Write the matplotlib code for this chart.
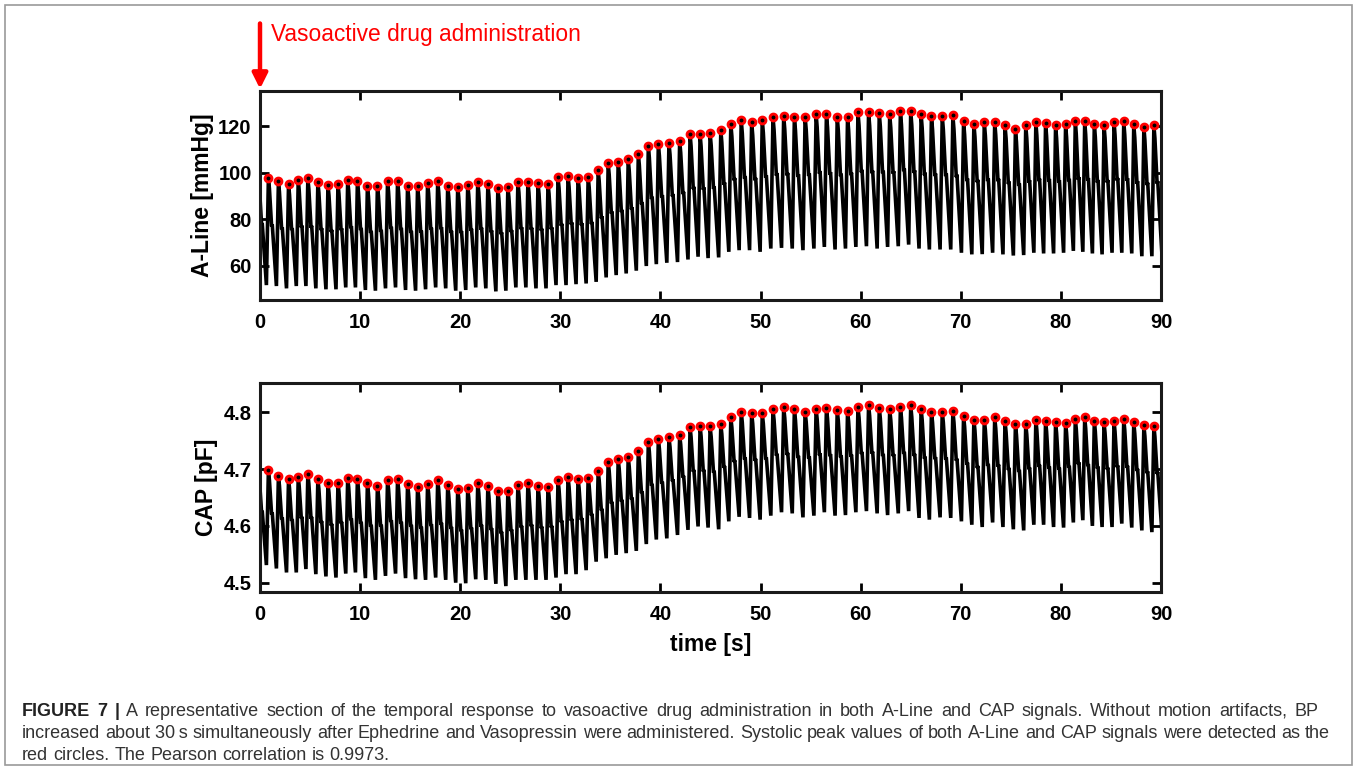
import numpy as np
import matplotlib
matplotlib.use('Agg')
import matplotlib.pyplot as plt
from matplotlib.patches import Rectangle

plt.rcParams['font.family'] = ['Liberation Sans', 'DejaVu Sans']

# systolic peak times [s] (detected peaks)
peak_t = [0.84, 1.84, 2.85, 3.82, 4.78, 5.78, 6.79, 7.79, 8.76, 9.73,
          10.73, 11.73, 12.74, 13.74, 14.74, 15.74, 16.74, 17.75, 18.75, 19.75,
          20.75, 21.75, 22.76, 23.76, 24.76, 25.76, 26.76, 27.77, 28.77, 29.77,
          30.77, 31.77, 32.78, 33.78, 34.78, 35.78, 36.78, 37.79, 38.79, 39.79,
          40.85, 41.92, 42.96, 43.96, 44.96, 46.03, 47.03, 48.07, 49.11, 50.17,
          51.24, 52.31, 53.38, 54.45, 55.55, 56.58, 57.66, 58.69, 59.73, 60.79,
          61.86, 62.90, 63.97, 65.00, 66.04, 67.07, 68.15, 69.21, 70.28, 71.31,
          72.35, 73.39, 74.42, 75.46, 76.49, 77.50, 78.47, 79.47, 80.47, 81.44,
          82.38, 83.34, 84.31, 85.31, 86.28, 87.28, 88.29, 89.29]

# A-Line systolic peaks [mmHg]
aline_sys = [97.9, 96.4, 95.0, 97.0, 97.6, 96.0, 94.7, 95.3, 96.9, 96.4,
             94.4, 94.4, 96.4, 96.4, 94.4, 94.1, 95.7, 96.4, 94.4, 94.0,
             94.9, 96.1, 95.0, 93.3, 93.9, 96.1, 96.1, 95.4, 95.3, 98.0,
             98.7, 97.9, 98.3, 101.1, 104.0, 104.7, 105.7, 108.1, 111.6, 112.3,
             112.9, 113.7, 116.7, 116.7, 117.1, 118.3, 121.1, 122.6, 121.7, 122.7,
             124.1, 124.4, 123.9, 124.1, 125.3, 125.3, 123.9, 124.1, 126.1, 126.1,
             125.6, 125.0, 126.4, 126.4, 125.0, 124.3, 124.3, 124.6, 122.1, 121.1,
             121.6, 121.9, 120.3, 118.6, 120.3, 121.7, 121.4, 120.3, 120.7, 122.3,
             122.1, 121.0, 120.4, 121.9, 122.0, 120.7, 119.6, 120.4]

# A-Line diastolic minimum just before each peak [mmHg]
aline_dia = [51.7, 51.3, 50.3, 51.3, 51.3, 50.3, 49.9, 49.9, 50.7, 50.7,
             49.6, 49.3, 50.3, 50.7, 49.6, 49.3, 49.9, 50.7, 50.3, 49.3,
             49.6, 50.7, 50.3, 49.0, 49.3, 50.7, 50.7, 50.3, 50.3, 51.7,
             51.7, 52.1, 52.4, 53.1, 55.0, 56.0, 56.7, 57.9, 59.9, 60.7,
             61.3, 61.6, 62.7, 63.9, 63.3, 63.6, 66.0, 66.7, 66.7, 66.0,
             67.4, 67.7, 67.4, 66.7, 67.4, 68.1, 67.0, 67.4, 68.1, 68.4,
             67.4, 68.1, 68.4, 69.1, 67.4, 67.0, 67.0, 67.0, 65.6, 64.9,
             65.0, 65.6, 64.9, 64.4, 64.6, 65.6, 65.3, 65.3, 65.6, 66.4,
             66.0, 65.3, 64.9, 65.6, 65.6, 65.3, 64.1, 64.1]

# CAP systolic peaks [pF]
cap_sys = [4.698, 4.688, 4.683, 4.686, 4.692, 4.682, 4.675, 4.676, 4.685, 4.682,
           4.675, 4.670, 4.681, 4.682, 4.674, 4.669, 4.674, 4.681, 4.672, 4.665,
           4.666, 4.675, 4.670, 4.662, 4.661, 4.672, 4.676, 4.670, 4.669, 4.681,
           4.686, 4.683, 4.685, 4.696, 4.713, 4.717, 4.721, 4.731, 4.748, 4.753,
           4.756, 4.760, 4.774, 4.776, 4.775, 4.779, 4.791, 4.801, 4.799, 4.798,
           4.805, 4.809, 4.805, 4.801, 4.806, 4.808, 4.804, 4.802, 4.809, 4.813,
           4.808, 4.805, 4.809, 4.812, 4.806, 4.801, 4.801, 4.802, 4.794, 4.787,
           4.787, 4.791, 4.784, 4.779, 4.779, 4.787, 4.785, 4.782, 4.781, 4.789,
           4.791, 4.785, 4.782, 4.784, 4.788, 4.782, 4.777, 4.776]

# CAP minimum just before each peak [pF]
cap_dia = [4.531, 4.525, 4.518, 4.518, 4.524, 4.515, 4.511, 4.509, 4.516, 4.518,
           4.508, 4.505, 4.512, 4.516, 4.508, 4.506, 4.505, 4.509, 4.505, 4.500,
           4.499, 4.506, 4.505, 4.498, 4.494, 4.505, 4.505, 4.505, 4.505, 4.509,
           4.515, 4.515, 4.522, 4.537, 4.543, 4.549, 4.552, 4.556, 4.568, 4.576,
           4.578, 4.584, 4.593, 4.599, 4.597, 4.594, 4.608, 4.616, 4.614, 4.611,
           4.618, 4.624, 4.622, 4.615, 4.618, 4.624, 4.618, 4.619, 4.624, 4.626,
           4.622, 4.619, 4.622, 4.626, 4.614, 4.611, 4.615, 4.614, 4.608, 4.602,
           4.598, 4.606, 4.598, 4.594, 4.592, 4.602, 4.602, 4.598, 4.597, 4.606,
           4.610, 4.600, 4.598, 4.598, 4.604, 4.597, 4.592, 4.589]

# beats cut by the plot edges: (time, A-Line, CAP) of peak before t=0,
# trough and peak after t=90
lead_peak = (-0.16, 98.5, 4.699)
tail_trough = (64.5, 4.588)
tail_peak = (90.30, 120.5, 4.776)

# one pulse, peak -> dicrotic notch -> diastolic minimum (phase, fraction of pulse height)
shape_phase = [0.0, 0.10, 0.32, 0.38, 0.80]
shape_level = [1.0, 0.90, 0.55, 0.57, 0.0]

caption = [
    ('FIGURE 7 | A representative section of the temporal response to vasoactive drug '
     'administration in both A-Line and CAP signals. Without motion artifacts, BP'),
    ('increased about 30\u2009s simultaneously after Ephedrine and Vasopressin were '
     'administered. Systolic peak values of both A-Line and CAP signals were detected as the'),
    'red circles. The Pearson correlation is 0.9973.',
]


def pulse_trace(times, sys_v, dia_v):
    ts, vs = [], []
    for i in range(len(times) - 1):
        period = times[i + 1] - times[i]
        lo, hi = dia_v[i + 1], sys_v[i]
        for ph, lv in zip(shape_phase, shape_level):
            ts.append(times[i] + ph * period)
            vs.append(lo + lv * (hi - lo))
    ts.append(times[-1])
    vs.append(sys_v[-1])
    return np.array(ts), np.array(vs)


all_t = [lead_peak[0]] + peak_t + [tail_peak[0]]
t_a, v_a = pulse_trace(all_t, [lead_peak[1]] + aline_sys + [tail_peak[1]],
                       [np.nan] + aline_dia + [tail_trough[0]])
t_c, v_c = pulse_trace(all_t, [lead_peak[2]] + cap_sys + [tail_peak[2]],
                       [np.nan] + cap_dia + [tail_trough[1]])

W, H = 1357, 770
fig = plt.figure(figsize=(W / 100, H / 100), dpi=100)
fig.patches.append(Rectangle((5 / W, 5 / H), 1347 / W, 760 / H, transform=fig.transFigure,
                             fill=False, edgecolor='#9a9a9a', lw=1.2))

ax1 = fig.add_axes([260 / W, (H - 300) / H, 901 / W, 209.5 / H])
ax2 = fig.add_axes([260 / W, (H - 592) / H, 901 / W, 208.7 / H])

for ax, tt, vv, sv in [(ax1, t_a, v_a, aline_sys), (ax2, t_c, v_c, cap_sys)]:
    ax.plot(tt, vv, color='black', lw=2.6, solid_joinstyle='miter', zorder=2)
    ax.plot(peak_t, sv, 'o', color='red', ms=6.0, mec='red', zorder=3)
    ax.plot(peak_t, sv, 'o', color='black', ms=1.8, zorder=4)
    ax.set_xlim(0, 90)
    ax.set_xticks(np.arange(0, 91, 10))
    ax.tick_params(direction='in', length=6.5, width=2, top=True, right=True,
                   labelsize=14.5, color='black')
    ax.tick_params(axis='x', pad=9)
    ax.tick_params(axis='y', pad=6)
    for sp in ax.spines.values():
        sp.set_linewidth(2.2)
        sp.set_color('#1a1a1a')

ax1.set_ylim(45.3, 135.3)
ax1.set_yticks([60, 80, 100, 120])
ax2.set_ylim(4.4836, 4.851)
ax2.set_yticks([4.5, 4.6, 4.7, 4.8])
ax2.set_yticklabels(['4.5', '4.6', '4.7', '4.8'])
for ax in (ax1, ax2):
    for lb in ax.get_xticklabels() + ax.get_yticklabels():
        lb.set_fontweight('bold')

ax1.set_ylabel('A-Line [mmHg]', fontsize=16.5, fontweight='bold')
ax1.yaxis.set_label_coords(-0.051, 0.5)
ax2.set_ylabel('CAP [pF]', fontsize=16.5, fontweight='bold')
ax2.yaxis.set_label_coords(-0.047, 0.5)
ax2.set_xlabel('time [s]', fontsize=16.5, fontweight='bold')
ax2.xaxis.set_label_coords(0.5, -0.195)

# drug administration marker
ax1.annotate('', xy=(0, 1.008), xytext=(0, 1.32),
             xycoords=('data', 'axes fraction'), textcoords=('data', 'axes fraction'),
             arrowprops=dict(arrowstyle='-|>,head_width=0.45,head_length=0.9',
                             color='red', lw=3.2, shrinkA=0, shrinkB=0),
             annotation_clip=False)
ax1.text(1.1, 1.265, 'Vasoactive drug administration', color='red', fontsize=16.4,
         transform=ax1.get_xaxis_transform(), ha='left', va='center', clip_on=False)

# caption, justified like the journal layout
renderer = fig.canvas.get_renderer()
cap_size = 13.0
line_y = [711, 733, 755]
line_right = [1318, 1330, None]
probe = fig.text(0, 0, 'a a', fontsize=cap_size)
probe2 = fig.text(0, 0, 'aa', fontsize=cap_size)
space = probe.get_window_extent(renderer).width - probe2.get_window_extent(renderer).width
probe.remove()
probe2.remove()
for li, line in enumerate(caption):
    words = line.split(' ')
    objs = []
    for wi, w in enumerate(words):
        bold = li == 0 and wi < 3
        objs.append(fig.text(0, 1 - line_y[li] / H, w, fontsize=cap_size,
                             fontweight='bold' if bold else 'normal',
                             color='#222222' if bold else '#333333',
                             ha='left', va='center'))
    widths = [o.get_window_extent(renderer).width for o in objs]
    if line_right[li] is None:
        gap = space
    else:
        gap = (line_right[li] - 22 - sum(widths)) / (len(words) - 1)
    x = 22.0
    for o, wd in zip(objs, widths):
        o.set_x(x / W)
        x += wd + gap

fig.savefig('out.png', dpi=100)
